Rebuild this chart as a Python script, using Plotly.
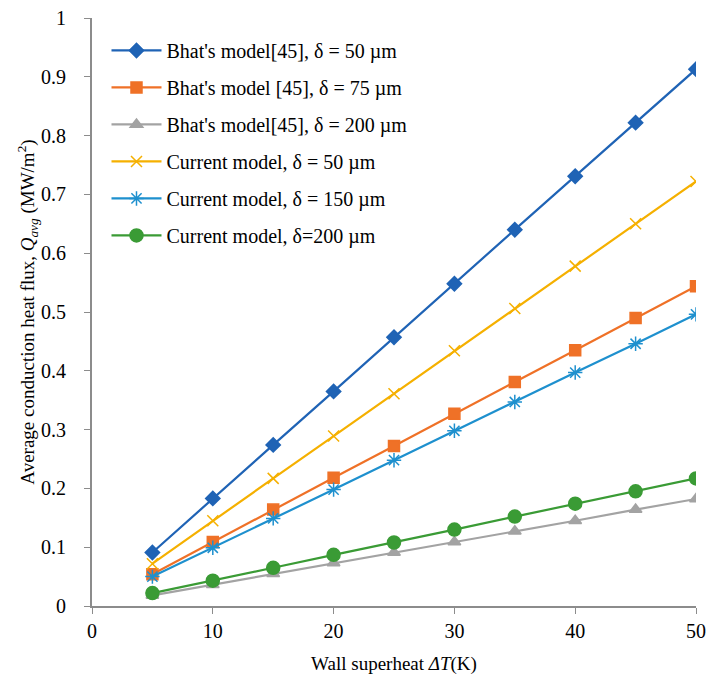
import plotly.graph_objects as go

x_vals = [5, 10, 15, 20, 25, 30, 35, 40, 45, 50]

bhat_50 = [0.091, 0.183, 0.274, 0.365, 0.457, 0.548, 0.640, 0.731, 0.822, 0.913]
bhat_75 = [0.054, 0.109, 0.164, 0.218, 0.272, 0.327, 0.381, 0.435, 0.490, 0.544]
bhat_200 = [0.018, 0.036, 0.055, 0.073, 0.091, 0.109, 0.127, 0.145, 0.164, 0.182]
cur_50 = [0.072, 0.145, 0.217, 0.289, 0.361, 0.434, 0.506, 0.578, 0.650, 0.722]
cur_150 = [0.050, 0.099, 0.149, 0.198, 0.248, 0.298, 0.347, 0.397, 0.446, 0.496]
cur_200 = [0.022, 0.043, 0.065, 0.087, 0.108, 0.130, 0.152, 0.174, 0.195, 0.217]

x_ticks = [0, 10, 20, 30, 40, 50]
y_ticks = [0, 0.1, 0.2, 0.3, 0.4, 0.5, 0.6, 0.7, 0.8, 0.9, 1]
y_ticktext = ["0", "0.1", "0.2", "0.3", "0.4", "0.5", "0.6", "0.7", "0.8", "0.9", "1"]

names = [
    "Bhat's model[45], δ = 50 µm",
    "Bhat's model [45], δ = 75 µm",
    "Bhat's model[45], δ = 200 µm",
    "Current model, δ = 50 µm",
    "Current model, δ = 150 µm",
    "Current model, δ=200 µm",
]
series = [bhat_50, bhat_75, bhat_200, cur_50, cur_150, cur_200]
colors = ["#1F63B5", "#EF7127", "#A3A3A3", "#F5B000", "#1E90CE", "#3A9B35"]
symbols = ["diamond", "square", "triangle-up", "x-thin", "asterisk-open", "circle"]
sizes = [11, 11, 11, 11, 12, 13]

fig = go.Figure()
for i, (nm, ys, c, s, sz) in enumerate(zip(names, series, colors, symbols, sizes)):
    fig.add_trace(go.Scatter(
        x=x_vals, y=ys, name=nm, mode="lines+markers",
        line=dict(color=c, width=2.2),
        marker=dict(symbol=s, size=sz, color=c, line=dict(color=c, width=1.5)),
        legendgroup=f"g{i}",
    ))

font_family = "Liberation Serif, Times New Roman, serif"
fig.update_layout(
    width=707, height=677,
    margin=dict(l=92, r=11, t=18, b=71),
    plot_bgcolor="white", paper_bgcolor="white",
    font=dict(family=font_family, size=20, color="black"),
    showlegend=True,
    legend=dict(
        x=0.024, y=0.978, xanchor="left", yanchor="top",
        font=dict(family=font_family, size=20, color="black"),
        bgcolor="rgba(255,255,255,0)",
        tracegroupgap=8,
        traceorder="grouped",
        itemwidth=50,
    ),
    xaxis=dict(
        range=[0, 50], tickvals=x_ticks, automargin=False,
        showgrid=False, zeroline=False,
        showline=True, linecolor="#8C8C8C", linewidth=2,
        ticks="outside", ticklen=6, tickcolor="#8C8C8C", tickwidth=1,
        tickfont=dict(family=font_family, size=20),
        title=dict(text="Wall superheat <i>ΔT</i>(K)", font=dict(family=font_family, size=19), standoff=16),
    ),
    yaxis=dict(
        range=[0, 1], tickvals=y_ticks, ticktext=y_ticktext, automargin=False,
        showgrid=False, zeroline=False,
        showline=True, linecolor="#8C8C8C", linewidth=2,
        ticks="outside", ticklen=6, tickcolor="#8C8C8C", tickwidth=1,
        ticklabelstandoff=14,
        tickfont=dict(family=font_family, size=20),
        title=dict(text="Average conduction heat flux, <i>Q<sub>avg</sub></i> (MW/m<sup>2</sup>)",
                   font=dict(family=font_family, size=19), standoff=0),
    ),
)

fig.write_html("out.html")
